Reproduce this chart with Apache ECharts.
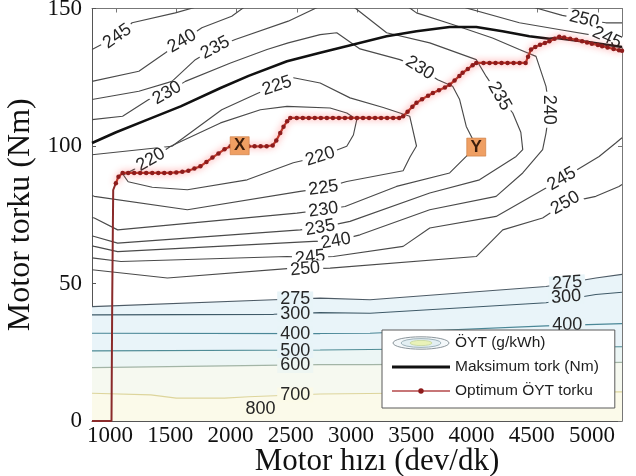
<!DOCTYPE html>
<html><head><meta charset="utf-8">
<script src="https://cdn.jsdelivr.net/npm/echarts@6/dist/echarts.min.js"></script>
<style>html,body{margin:0;padding:0;background:#fff}#c{width:636px;height:476px}</style>
</head><body><div id="c"></div>
<script>
// ---------- data (rpm, torque Nm) ----------
const xTickValues = [1000,1500,2000,2500,3000,3500,4000,4500,5000];

const maxTorque = [[800,101.1],[1000,105],[1261,109.6],[1536,114.4],[1867,121.1],[2100,125.5],[2419,130.8],[2694,133.9],[2970,136.9],[3246,139.9],[3494,141.7],[3769,143.3],[3990,143.3],[4208,141.7],[4431,139.9],[4597,139],[4652,139.3],[4800,138.5],[5000,137.3],[5200,136]];

const optimumBase = [[800,0],[962,0],[968,45],[976,84],[998,86.5]];
const optimumTorque = [[998,86.5],[1020,88.8],[1054,90.2],[1100,90.2],[1150,90.2],[1200,90.2],[1250,90.2],[1300,90.2],[1350,90.2],[1400,90.2],[1450,90.2],[1500,90.4],[1550,90.6],[1600,91],[1650,91.8],[1700,92.6],[1750,94.2],[1800,95.8],[1850,97.3],[1900,98.8],[1950,99.9],[2000,99.9],[2050,99.9],[2100,99.9],[2150,99.9],[2200,99.9],[2250,99.9],[2300,100.2],[2330,102],[2363,104.7],[2390,107],[2420,109],[2446,110.2],[2500,110.2],[2550,110.2],[2600,110.2],[2650,110.2],[2700,110.2],[2750,110.2],[2800,110.2],[2850,110.2],[2900,110.2],[2950,110.2],[3000,110.2],[3050,110.2],[3100,110.2],[3150,110.2],[3200,110.2],[3250,110.2],[3300,110.2],[3350,110.2],[3383,110.8],[3420,112.5],[3460,114.3],[3494,115.7],[3540,117],[3590,118.3],[3630,119.3],[3680,120.3],[3730,121.3],[3769,122.3],[3810,123.8],[3850,125.5],[3877,126.6],[3920,128],[3960,129.4],[3990,130.2],[4050,130.2],[4100,130.2],[4150,130.2],[4200,130.2],[4250,130.2],[4300,130.2],[4350,130.2],[4400,130.2],[4420,132.5],[4445,135.1],[4480,136],[4520,136.8],[4560,137.5],[4597,138.1],[4640,139],[4679,139.7],[4720,139.5],[4770,139],[4820,138.6],[4869,138.1],[4910,137.6],[4950,137.2],[5000,136.7],[5035,136.3],[5080,135.8],[5130,135.3],[5175,134.8],[5200,134.6]];

const c220 = [[1060,89.5],[1150,91.5],[1288,95],[1453,99.9],[1867,108.4],[2198,113.2],[2419,114.4],[2777,113.8],[2915,112],[2998,109.6],[2970,104],[2915,99.9],[2694,96.2],[2471,93.9],[2088,87.7],[1592,84.1],[1300,85],[1100,87],[1060,89.5]];
const c225 = [[800,96.8],[1464,99.9],[1877,113.2],[2181,119.3],[2336,121.9],[2473,124.8],[2694,122.9],[2942,117.5],[3218,114],[3438,110.8],[3494,100],[3440,96],[3383,91],[2915,87.1],[2721,84.7],[2529,83.5],[1592,76.8],[819,81.7],[800,82]];
const c230 = [[800,109.6],[1054,110.8],[1271,116.9],[1423,119.3],[1575,123.5],[1950,130.2],[2253,135.1],[2429,137.5],[2694,140.5],[2832,141.2],[3025,135.3],[3356,131.4],[3521,128.4],[3670,124.1],[3794,121.7],[3852,116.9],[3907,107.1],[3990,99.9],[3907,96.2],[3769,90.2],[3328,85.3],[2901,78],[2721,76.8],[2501,75.6],[1013,69.5],[819,73.8],[800,74]];
const c235 = [[800,116.9],[1189,119.9],[1464,123.5],[1658,131.4],[1823,135.7],[1989,138.7],[2429,145.4],[2700,151],[2950,151],[2984,150.2],[3246,141.2],[3604,137.5],[3990,131.4],[4073,125.3],[4183,118.1],[4293,112],[4360,105],[4376,98.7],[4321,96.2],[4017,87.7],[3604,82.9],[2942,72.6],[2694,70.3],[2529,69.5],[1013,64.7],[819,67.1],[800,67.3]];
const c240a = [[800,123.5],[1189,127.2],[1410,133.9],[1547,138.1],[1712,143],[1960,147.2],[2080,151]];
const c240b = [[3400,151],[3438,150.2],[3494,148.4],[3794,144.2],[4125,139.3],[4348,135.1],[4486,132.6],[4569,121.7],[4597,113.2],[4569,104.7],[4541,98.7],[4376,90.2],[4155,81.7],[3604,76.8],[3025,67.7],[2826,65.5],[2639,65.3],[1013,61.6],[819,63.5],[800,63.7]];
const c245a = [[800,135.1],[1010,139.9],[1133,144.8],[1492,148.4],[1700,151]];
const c245b = [[3860,151],[3907,150.2],[4348,144.8],[4700,142.2],[5076,139.4],[5250,137]];
const c245c = [[800,59.3],[1040,58],[2419,59.8],[2611,59.5],[2804,59.8],[3383,63.5],[3604,70.2],[4155,74.4],[4569,84.7],[4700,88],[5010,96.2],[5148,101.1],[5200,103]];
const c250a = [[4440,151],[4486,150.2],[4704,147.5],[4886,146],[5065,144.8],[5200,144.8]];
const c250b = [[800,55],[1426,52],[2473,55.6],[2570,55.3],[2777,55.6],[3990,59.8],[4210,69.5],[4541,73.8],[4730,79.3],[4983,81.7],[5175,85.3],[5200,86]];
const c275 = [[800,41.6],[2308,44.1],[2694,44.7],[3108,44.1],[4569,48.9],[4983,52],[5200,53.3]];
const c300 = [[800,38.6],[2308,38.8],[2694,39.4],[3108,39.2],[4569,43],[4983,46],[5200,46.8]];
const c400 = [[800,31.9],[2694,31.8],[3108,31.9],[4569,34.6],[5200,35.4]];
const c500 = [[800,25.5],[2694,25.8],[3108,26],[4569,26.8],[5200,27]];
const c600 = [[800,19.4],[2694,20.5],[3108,20.5],[4569,21],[5200,21.3]];
const c700 = [[800,10.1],[1288,9.5],[1500,8.3],[1900,8.3],[2100,8.8],[2694,9.8],[3500,10.2],[5200,10.6]];

// contour labels: [rpm, torque, level]
const contourLabels = [[1010,139.9,245],[1547,138.1,240],[1823,135.7,235],[1423,119.3,230],[2336,121.9,225],[3521,128.4,230],[4183,118.1,235],[4597,113.2,240],[4886,146,250],[5076,139.4,245],[1288,95,220],[2694,96.2,220],[2721,84.7,225],[2721,76.8,230],[2694,70.3,235],[2826,65.5,240],[2611,59.5,245],[2570,55.3,250],[4700,88,245],[4730,79.3,250],[2487,44.4,275],[2487,39,300],[2487,31.8,400],[2487,25.6,500],[2487,20.2,600],[2487,9.5,700],[2198,4.2,800],[4745,50.2,275],[4737,45.1,300],[4745,35,400]];
const pointMarks = [[2026,100.1,'X'],[3990,99.6,'Y']];

// ---------- styling ----------
const labelAngles = [35,30,28,30,18,-32,-60,-90,-14,-25,30,18,8,8,10,10,6,5,30,30,0,0,0,0,0,0,0,4,4,0];
const levelColor = {275:'#4d5b66',300:'#3f5a68',400:'#4a8797',500:'#4f8c96',600:'#a3b5a6',700:'#ddd59c'};
const BSFC = 'ÖYT (g/kWh)', MAXT = 'Maksimum tork (Nm)', OPT = 'Optimum ÖYT torku';

function svgIcon(s){return 'image://data:image/svg+xml;charset=utf-8,'+encodeURIComponent('<svg xmlns="http://www.w3.org/2000/svg" width="58" height="14" viewBox="0 0 58 14">'+s+'</svg>');}
const iconBsfc = svgIcon('<ellipse cx="29" cy="7" rx="28" ry="6.2" fill="#f4f8fa" stroke="#8c969c" stroke-width="1"/><ellipse cx="29" cy="7" rx="20" ry="4.4" fill="#e3eff3" stroke="#9fb3bb" stroke-width="1"/><ellipse cx="29" cy="7" rx="11" ry="2.6" fill="#e9f2b8" stroke="#c5d59a" stroke-width="0.8"/>');
const iconMax = svgIcon('<line x1="0" y1="7" x2="58" y2="7" stroke="#111" stroke-width="3"/>');
const iconOpt = svgIcon('<line x1="0" y1="7" x2="58" y2="7" stroke="#b5484a" stroke-width="1.4"/><circle cx="29" cy="7" r="2.7" fill="#8e1c1c"/>');

function contour(level, data, fill){
  const col = levelColor[level] || '#4a4a4a';
  const s = {type:'line', name:BSFC, data, symbol:'none', showSymbol:false, silent:true, z:2, clip:true,
    lineStyle:{color:col, width:1.15}, itemStyle:{color:col}};
  if (fill) s.areaStyle = {color:fill, opacity:1, origin:'start'};
  return s;
}
function labelBg(level){
  if (level>=275 && level<=500) return '#e8f4f8';
  if (level===600) return '#eef6f2';
  if (level>=700) return '#fbfae8';
  return '#ffffff';
}

const series = [
  contour(275,c275,'#e9f4f9'), contour(300,c300), contour(400,c400), contour(500,c500,'#ecf6f5'),
  contour(600,c600,'#f6f9f0'), contour(700,c700,'#fbfaea'),
  contour(250,c250a), contour(250,c250b), contour(245,c245a), contour(245,c245b), contour(245,c245c),
  contour(240,c240a), contour(240,c240b), contour(235,c235), contour(230,c230), contour(225,c225), contour(220,c220),
  {type:'scatter', name:BSFC, silent:true, z:3, symbolSize:1, itemStyle:{color:'transparent', opacity:1},
    data: contourLabels.map((d,i)=>({value:d, label:{rotate:labelAngles[i], backgroundColor:labelBg(d[2])}})),
    label:{show:true, position:'inside', formatter:p=>String(p.value[2]), fontFamily:'Liberation Sans, Arial, sans-serif',
      fontSize:18, color:'#262626', padding:[0,3], lineHeight:15}},
  {type:'line', name:MAXT, data:maxTorque, symbol:'none', showSymbol:false, z:4, silent:true,
    lineStyle:{color:'#111', width:2.6}, itemStyle:{color:'#111'}},
  {type:'line', name:OPT, data:optimumBase, symbol:'none', showSymbol:false, z:5, silent:true,
    lineStyle:{color:'#8a2a2a', width:2}, itemStyle:{color:'#8e1c1c'}},
  {type:'line', name:OPT, data:optimumTorque, symbol:'circle', symbolSize:4.5, showSymbol:true, showAllSymbol:true, z:5, silent:true,
    lineStyle:{color:'#c0392b', width:2.2, shadowColor:'rgba(255,90,90,0.9)', shadowBlur:7},
    itemStyle:{color:'#8e1c1c'}},
  {type:'scatter', name:'marks', silent:true, z:6, symbol:'rect', symbolSize:[19,18],
    itemStyle:{color:'#ef9f63', borderColor:'#c9773a', borderWidth:0.6, opacity:1},
    data: pointMarks.map(d=>({value:d})),
    label:{show:true, position:'inside', formatter:p=>p.value[2], fontFamily:'Liberation Sans, Arial, sans-serif',
      fontSize:17, fontWeight:'bold', color:'#3b1d0c'}}
];

const serif = 'Liberation Serif, Times New Roman, serif';
const option = {
  animation:false,
  backgroundColor:'#ffffff',
  grid:{left:92, right:14, top:8.5, bottom:55, show:false, outerBoundsMode:'none', containLabel:false},
  legend:{
    orient:'vertical', left:382, top:330, padding:[5,16,9,10], itemGap:8,
    itemWidth:58, itemHeight:14, backgroundColor:'#ffffff', borderColor:'#5a5a5a', borderWidth:1, z:8,
    selectedMode:false,
    textStyle:{fontFamily:'Liberation Sans, Arial, sans-serif', fontSize:15.5, color:'#1e1e1e'},
    data:[{name:BSFC, icon:iconBsfc},{name:MAXT, icon:iconMax},{name:OPT, icon:iconOpt}]
  },
  xAxis:[
    {type:'value', min:800, max:5200, position:'bottom',
     name:'Motor hızı (dev/dk)', nameLocation:'middle', nameGap:25, nameMoveOverlap:false,
     nameTextStyle:{fontFamily:serif, fontSize:31, color:'#111', padding:[0,0,0,40], verticalAlign:'top'},
     axisLine:{show:true, onZero:false, lineStyle:{color:'#555', width:1}},
     axisTick:{show:true, inside:true, length:4, customValues:xTickValues, lineStyle:{color:'#555'}},
     axisLabel:{show:true, customValues:xTickValues, formatter:v=>String(v), margin:3, fontFamily:serif, fontSize:23, color:'#111', padding:[0,12,0,0]},
     splitLine:{show:false}},
    {type:'value', min:800, max:5200, position:'top',
     axisLine:{show:true, onZero:false, lineStyle:{color:'#777', width:1}},
     axisTick:{show:true, inside:true, length:4, customValues:xTickValues, lineStyle:{color:'#777'}},
     axisLabel:{show:false}, splitLine:{show:false}}
  ],
  yAxis:[
    {type:'value', min:0, max:150, interval:50, position:'left',
     name:'Motor torku (Nm)', nameLocation:'middle', nameGap:47,
     nameTextStyle:{fontFamily:serif, fontSize:32, color:'#111'},
     axisLine:{show:true, onZero:false, lineStyle:{color:'#555', width:1}},
     axisTick:{show:true, inside:true, length:4, lineStyle:{color:'#555'}},
     axisLabel:{margin:10, fontFamily:serif, fontSize:23, color:'#111', padding:[4,0,0,0], formatter:v=>String(v)},
     splitLine:{show:false}},
    {type:'value', min:0, max:150, interval:50, position:'right',
     axisLine:{show:true, onZero:false, lineStyle:{color:'#777', width:1}},
     axisTick:{show:true, inside:true, length:4, lineStyle:{color:'#777'}},
     axisLabel:{show:false}, splitLine:{show:false}}
  ],
  series
};
const chart = echarts.init(document.getElementById('c'), null, {renderer:'canvas'});
chart.setOption(option);
</script></body></html>
